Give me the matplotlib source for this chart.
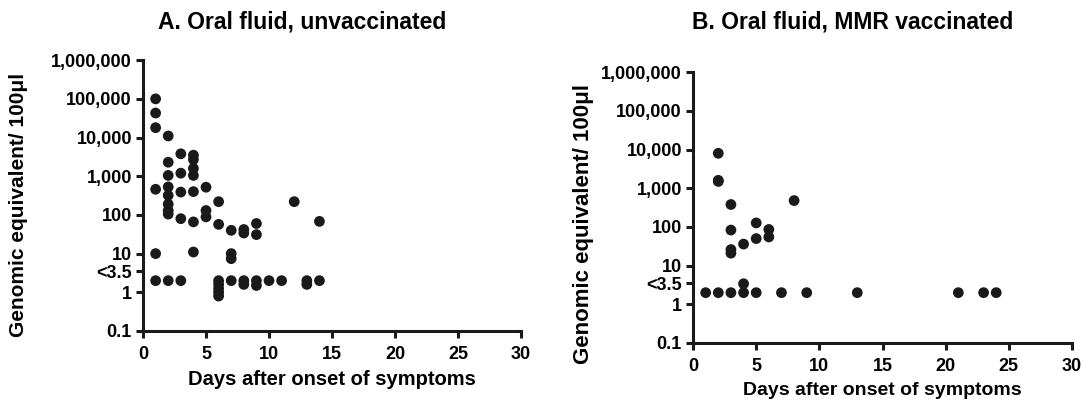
import matplotlib.pyplot as plt

plt.rcParams['font.family'] = ['Liberation Sans', 'DejaVu Sans']
plt.rcParams['font.weight'] = 'bold'

# A. Oral fluid, unvaccinated
days_a = [1, 1, 1, 1, 1, 1,
          2, 2, 2, 2, 2, 2, 2, 2, 2,
          3, 3, 3, 3, 3,
          4, 4, 4, 4, 4, 4, 4,
          5, 5, 5,
          6, 6, 6, 6, 6, 6, 6,
          7, 7, 7, 7,
          8, 8, 8, 8,
          9, 9, 9, 9,
          10, 11, 12, 13, 13, 14, 14]
values_a = [100000, 43000, 18000, 460, 10, 2,
            11000, 2300, 1050, 530, 320, 190, 130, 105, 2,
            3800, 1200, 390, 80, 2,
            3500, 2700, 1600, 1050, 400, 66, 11,
            520, 130, 89,
            220, 57, 2.0, 1.6, 1.25, 1.0, 0.8,
            40, 10, 7.4, 2,
            42, 34, 2, 1.6,
            60, 31, 2, 1.5,
            2, 2, 220, 2, 1.6, 68, 2]

# B. Oral fluid, MMR vaccinated
days_b = [1, 2, 2, 2, 2, 3, 3, 3, 3, 3, 4, 4, 4, 5, 5, 5, 6, 6, 7, 8, 9, 13, 21, 23, 24]
values_b = [2, 8000, 1600, 1500, 2, 380, 83, 26, 21, 2, 36, 3.4, 2, 127, 50, 2, 86, 55,
            2, 480, 2, 2, 2, 2, 2]

yticks = [0.1, 1, 3.5, 10, 100, 1000, 10000, 100000, 1000000]
ytick_labels = ["0.1", "1", "<3.5", "10", "100", "1,000", "10,000", "100,000", "1,000,000"]
xticks = [0, 5, 10, 15, 20, 25, 30]

fig = plt.figure(figsize=(10.81, 4.03), dpi=100)
ax_a = fig.add_axes([0.1323, 0.1787, 0.3497, 0.672])
ax_b = fig.add_axes([0.6411, 0.1489, 0.3506, 0.672])

panels = [(ax_a, days_a, values_a, 15, -0.305, 0.465, 14.5),
          (ax_b, days_b, values_b, 16, -0.26, 0.44, 14)]
for ax, d, v, ylab_size, ylab_x, ylab_y, xlab_size in panels:
    ax.scatter(d, v, s=60, color='#1a1a1a', edgecolors='none', zorder=3, clip_on=False)
    ax.set_yscale('log')
    ax.set_ylim(0.1, 1000000)
    ax.set_xlim(0, 30)
    ax.set_yticks(yticks)
    ax.set_yticklabels(ytick_labels)
    ax.minorticks_off()
    ax.set_xticks(xticks)
    ax.spines['top'].set_visible(False)
    ax.spines['right'].set_visible(False)
    ax.spines['left'].set_linewidth(2.2)
    ax.spines['bottom'].set_linewidth(2.2)
    ax.spines['left'].set_color('#1a1a1a')
    ax.spines['bottom'].set_color('#1a1a1a')
    ax.tick_params(width=2.2, length=5, labelsize=13, color='#1a1a1a', pad=3)
    ax.tick_params(axis='x', pad=6)
    for lab in ax.get_xticklabels() + ax.get_yticklabels():
        lab.set_fontweight('bold')
    ax.set_xlabel("Days after onset of symptoms", fontsize=xlab_size, fontweight='bold', labelpad=5)
    ax.set_ylabel("Genomic equivalent/ 100\u03bcl", fontsize=ylab_size, fontweight='bold')
    ax.yaxis.set_label_coords(ylab_x, ylab_y)

fig.text(0.2795, 0.945, "A. Oral fluid, unvaccinated", ha='center', va='center',
         fontsize=16.5, fontweight='bold')
fig.text(0.789, 0.945, "B. Oral fluid, MMR vaccinated", ha='center', va='center',
         fontsize=16.5, fontweight='bold')

fig.savefig("out.png", dpi=100)
